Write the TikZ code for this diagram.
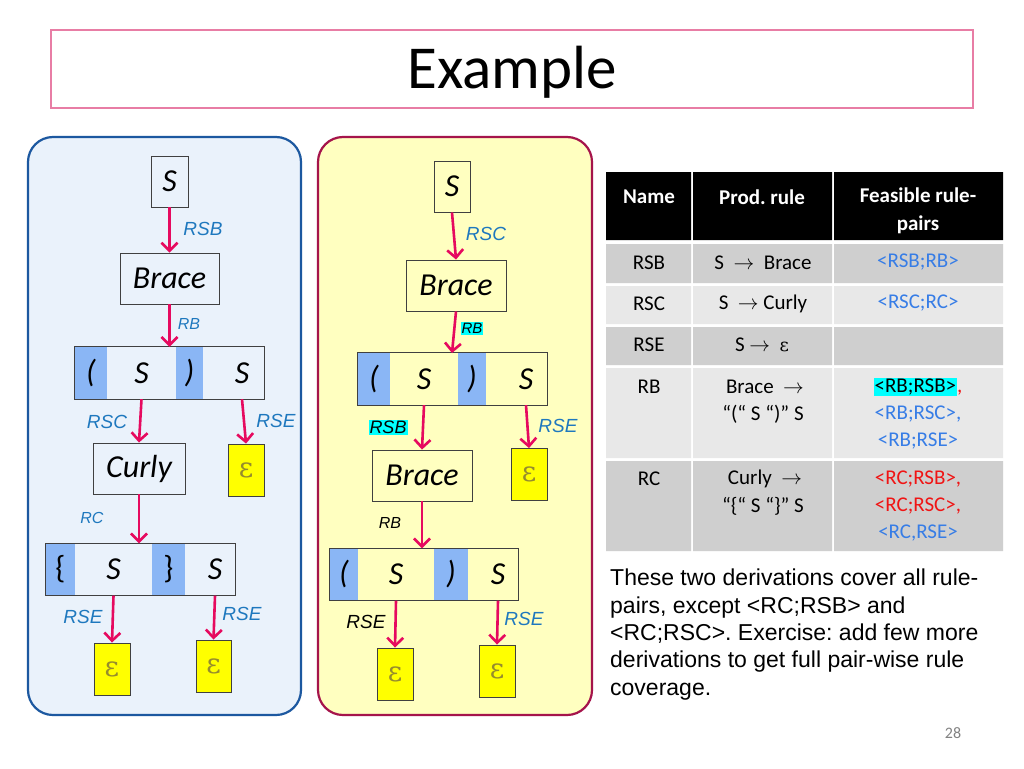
\documentclass[tikz,border=0pt]{standalone}
\usepackage{fontspec}
\setmainfont{Carlito}
\newfontfamily\arialf{Liberation Sans}
\newfontfamily\epsf{DejaVu Serif}
\frenchspacing
\usetikzlibrary{arrows.meta}
\definecolor{titleB}{RGB}{232,125,165}
\definecolor{leftF}{RGB}{234,242,251}
\definecolor{leftB}{RGB}{28,88,160}
\definecolor{midF}{RGB}{255,255,192}
\definecolor{midB}{RGB}{165,20,75}
\definecolor{arrC}{RGB}{230,10,95}
\definecolor{labC}{RGB}{30,120,190}
\definecolor{hlC}{RGB}{138,182,245}
\definecolor{epsY}{RGB}{255,255,0}
\definecolor{epsC}{RGB}{150,140,45}
\definecolor{rowD}{RGB}{207,207,207}
\definecolor{rowL}{RGB}{232,232,232}
\definecolor{tblue}{RGB}{55,125,230}
\definecolor{tred}{RGB}{240,20,20}
\definecolor{pgC}{RGB}{130,130,130}
\definecolor{cyanH}{RGB}{0,255,255}
\begin{document}
\begin{tikzpicture}[x=1pt,y=-1pt,
  tbox/.style={draw=black!75,line width=0.9pt,inner sep=0pt,font=\fontsize{32}{38}\selectfont\itshape},
  ebox/.style={draw=black!75,line width=0.9pt,inner sep=0pt,fill=epsY,text=epsC,minimum width=36pt,minimum height=52pt,font=\epsf\fontsize{28}{34}\selectfont},
  cell/.style={inner sep=0pt,minimum height=52pt,font=\fontsize{32}{38}\selectfont\itshape},
  hl/.style={cell,fill=hlC},
  rowline/.style={draw=black!75,line width=0.9pt},
  lab/.style={inner sep=0pt,text=labC,font=\arialf\itshape\fontsize{19}{22}\selectfont},
  labs/.style={inner sep=0pt,text=labC,font=\arialf\itshape\fontsize{16}{19}\selectfont},
  hlab/.style={inner sep=1pt,fill=cyanH,text=black,font=\arialf\itshape\fontsize{18}{21}\selectfont},
  arr/.style={draw=arrC,line width=2.6pt,-{Straight Barb[length=8pt,width=16pt]}},
  th/.style={inner sep=0pt,text=white,font=\fontsize{21}{28}\selectfont\bfseries,align=center},
  td/.style={inner sep=0pt,font=\fontsize{21}{27}\selectfont},
]
\useasboundingbox (0,0) rectangle (1024,768);
\fill[white] (0,0) rectangle (1024,768);
% title
\draw[titleB,line width=1.2pt] (51,30) rectangle (973,108);
\node[inner sep=0pt,font=\fontsize{61}{70}\selectfont] (title) at (512,72) {Example};
% panels
\draw[leftB,fill=leftF,line width=2.2pt,rounded corners=25pt] (28,137) rectangle (301,715);
\draw[midB,fill=midF,line width=2.2pt,rounded corners=25pt] (318,137) rectangle (592,715);

% ---------- left tree ----------
\node[tbox,minimum width=37pt,minimum height=51pt] (lS) at (169.5,181.5) {S};
\node[tbox,minimum width=99pt,minimum height=51pt] (lBrace) at (169.5,278.5) {Brace};
\node[hl,minimum width=32pt] (la1) at (91,373) {(};
\node[cell,minimum width=69pt] (la2) at (141.5,373) {S};
\node[hl,minimum width=27pt] (la3) at (189.5,373) {)};
\node[cell,minimum width=44pt] (la4) at (242,373) {S};
\draw[rowline] (la1.north west) rectangle (la4.south east);
\node[tbox,minimum width=92pt,minimum height=51pt] (lCurly) at (139,468.5) {Curly};
\node[ebox] (lE1) at (246,470) {ε};
\node[hl,minimum width=29pt,font=\fontsize{32}{38}\selectfont] (lb1) at (60.5,569.5) {\{};
\node[cell,minimum width=77pt] (lb2) at (113.5,569.5) {S};
\node[hl,minimum width=33pt,font=\fontsize{32}{38}\selectfont] (lb3) at (168.5,569.5) {\}};
\node[cell,minimum width=40pt] (lb4) at (215,569.5) {S};
\draw[rowline] (lb1.north west) rectangle (lb4.south east);
\node[ebox] (lE2) at (112,669) {ε};
\node[ebox,minimum width=35pt] (lE3) at (213.5,666) {ε};

\draw[arr] (lS.south) -- (lBrace.north);
\draw[arr] (lBrace.south) -- (la2.north -| lBrace.south);
\draw[arr] (la2.south) -- (lCurly.north);
\draw[arr] (la4.south) -- (lE1.north);
\draw[arr] (lCurly.south) -- (lCurly.south |- lb2.north);
\draw[arr] (lb2.south) -- (lE2.north);
\draw[arr] (lb4.south) -- (lE3.north);

\node[lab] (lL1) at (203,229) {RSB};
\node[labs] (lL2) at (189,324) {RB};
\node[lab] (lL3) at (107,422) {RSC};
\node[lab] (lL4) at (276,421) {RSE};
\node[labs] (lL5) at (92,518) {RC};
\node[lab] (lL6) at (83,617) {RSE};
\node[lab] (lL7) at (242,614) {RSE};

% ---------- middle tree ----------
\node[tbox,minimum width=36pt,minimum height=51pt] (mS) at (452,186.5) {S};
\node[tbox,minimum width=100pt,minimum height=51pt] (mBrace) at (456,285.5) {Brace};
\node[hl,minimum width=32pt] (ma1) at (374,379) {(};
\node[cell,minimum width=68pt] (ma2) at (424,379) {S};
\node[hl,minimum width=28pt] (ma3) at (472,379) {)};
\node[cell,minimum width=42pt] (ma4) at (526,379) {S};
\draw[rowline] (ma1.north west) rectangle (ma4.south east);
\node[tbox,minimum width=100pt,minimum height=51pt] (mBrace2) at (422,475.5) {Brace};
\node[ebox] (mE1) at (529,474.5) {ε};
\node[hl,minimum width=28pt] (mb1) at (344,574.5) {(};
\node[cell,minimum width=76pt] (mb2) at (396,574.5) {S};
\node[hl,minimum width=34pt] (mb3) at (451,574.5) {)};
\node[cell,minimum width=40pt] (mb4) at (498,574.5) {S};
\draw[rowline] (mb1.north west) rectangle (mb4.south east);
\node[ebox] (mE2) at (395,674) {ε};
\node[ebox] (mE3) at (497,671) {ε};

\coordinate (mT1) at (452,353);
\draw[arr] (mS.south) -- (mBrace.north);
\draw[arr] (mBrace.south) -- (mT1);
\draw[arr] (ma2.south) -- (mBrace2.north);
\draw[arr] (ma4.south) -- (mE1.north);
\draw[arr] (mBrace2.south) -- (mBrace2.south |- mb2.north);
\draw[arr] (mb2.south) -- (mE2.north);
\draw[arr] (mb4.south) -- (mE3.north);

\node[lab] (mL1) at (486,234) {RSC};
\node[hlab,font=\arialf\itshape\fontsize{15}{18}\selectfont] (mL2) at (472,328.5) {RB};
\node[hlab] (mL3) at (388,427.5) {RSB};
\node[lab] (mL4) at (558,426) {RSE};
\node[labs,text=black] (mL5) at (390,523) {RB};
\node[lab,text=black] (mL6) at (366,622) {RSE};
\node[lab] (mL7) at (524,619) {RSE};

% ---------- table ----------
\fill[black] (606,172) rectangle (691,240) (693,172) rectangle (832,240) (834,172) rectangle (1003,240);
\fill[rowD] (606,244) rectangle (691,283) (693,244) rectangle (832,283) (834,244) rectangle (1003,283);
\fill[rowL] (606,286) rectangle (691,324) (693,286) rectangle (832,324) (834,286) rectangle (1003,324);
\fill[rowD] (606,327) rectangle (691,365) (693,327) rectangle (832,365) (834,327) rectangle (1003,365);
\fill[rowL] (606,368) rectangle (691,458) (693,368) rectangle (832,458) (834,368) rectangle (1003,458);
\fill[rowD] (606,461) rectangle (691,551) (693,461) rectangle (832,551) (834,461) rectangle (1003,551);

\node[th] (h1) at (649,197) {Name};
\node[th] (h2) at (762,197) {Prod. rule};
\node[th] (h3) at (918,211) {Feasible rule-\\pairs};

\node[td] (r1a) at (649,263) {RSB};
\node[td] (r1b) at (763,263) {S ~$\rightarrow$~ Brace};
\node[td,text=tblue] (r1c) at (918,262) {<RSB;RB>};
\node[td] (r2a) at (649,304) {RSC};
\node[td] (r2b) at (763,304) {S ~$\rightarrow$~Curly};
\node[td,text=tblue] (r2c) at (918,303) {<RSC;RC>};
\node[td] (r3a) at (649,345) {RSE};
\node[td] (r3b) at (762,345) {S $\rightarrow$~ {\epsf\fontsize{18}{20}\selectfont ε}};
\node[td] (r4a) at (649,387) {RB};
\node[td] (r4b) at (765,387) {Brace ~$\rightarrow$};
\node[td] (r4c) at (763,414) {“(“ S “)” S};
\node[td] (r4d) at (918,387) {\setlength{\fboxsep}{1pt}\colorbox{cyanH}{<RB;RSB>}\textcolor{tred}{,}};
\node[td,text=tblue] (r4e) at (918,414) {<RB;RSC>,};
\node[td,text=tblue] (r4f) at (918,441) {<RB;RSE>};
\node[td] (r5a) at (649,479) {RC};
\node[td] (r5b) at (765,479) {Curly ~$\rightarrow$};
\node[td] (r5c) at (763,506) {“\{“ S “\}” S};
\node[td,text=tred] (r5d) at (918,479) {<RC;RSB>,};
\node[td,text=tred] (r5e) at (918,506) {<RC;RSC>,};
\node[td,text=tblue] (r5f) at (918,533) {<RC,RSE>};

% paragraph
\node[inner sep=0pt,anchor=north west,align=left,font=\arialf\fontsize{23}{27.3}\selectfont] (para) at (610,569)
 {These two derivations cover all rule-\\pairs, except <RC;RSB> and\\<RC;RSC>. Exercise: add few more\\derivations to get full pair-wise rule\\coverage.};
\node[inner sep=0pt,text=pgC,font=\fontsize{16}{19}\selectfont] (pg) at (953,733) {28};
\end{tikzpicture}
\end{document}
